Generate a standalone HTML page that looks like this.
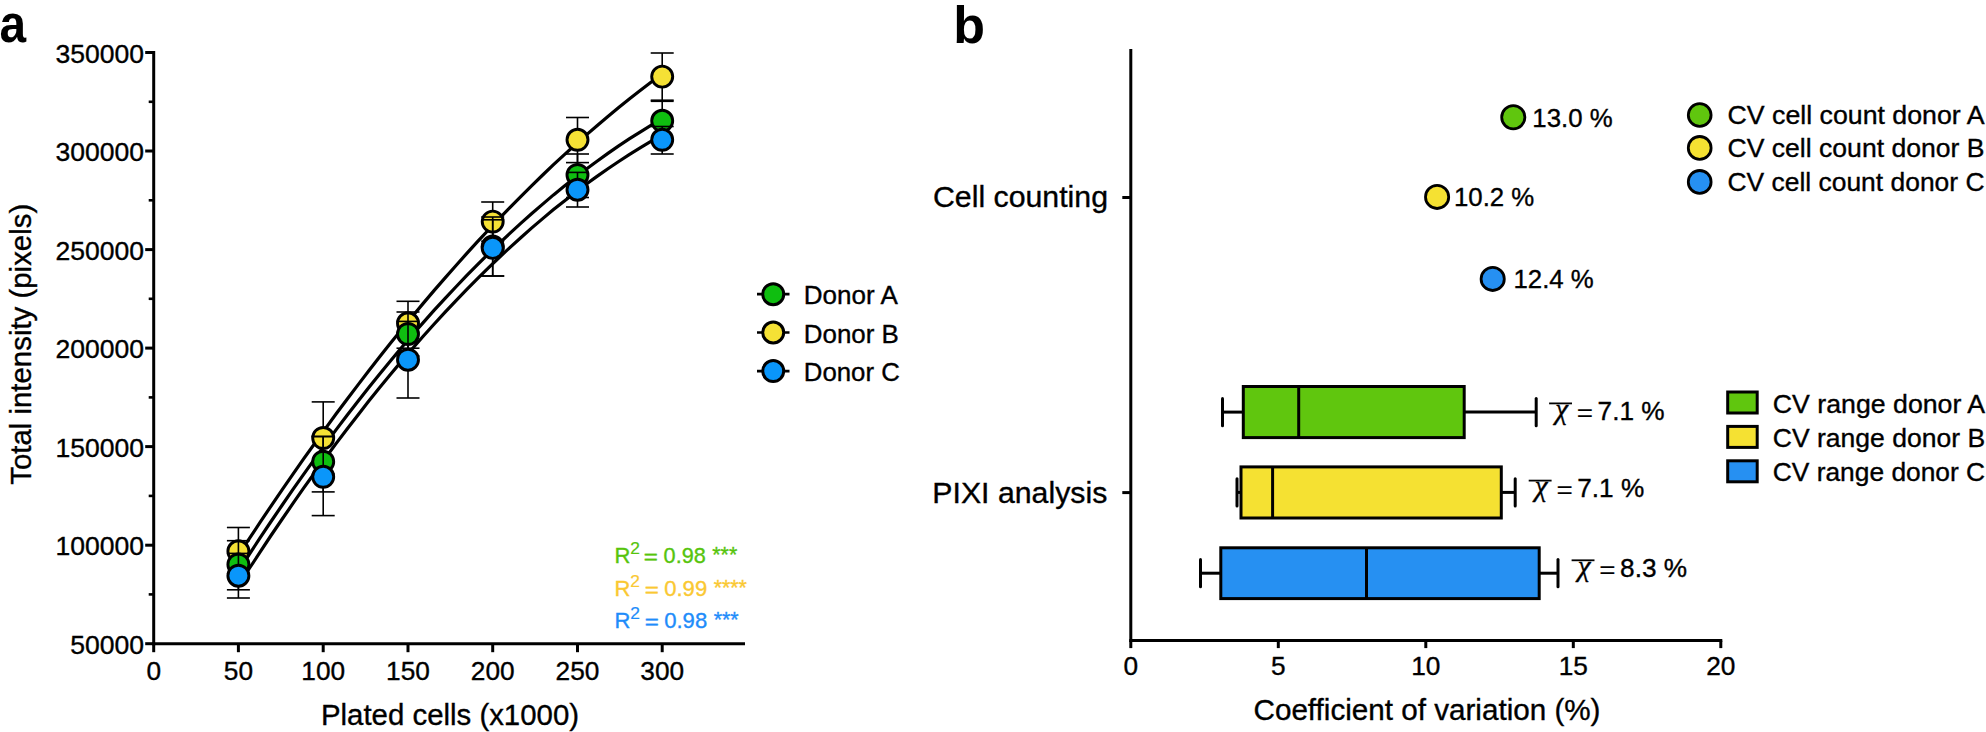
<!DOCTYPE html>
<html lang="en">
<head>
<meta charset="utf-8">
<title>Figure</title>
<style>html,body{margin:0;padding:0;background:#fff;}svg{display:block;}</style>
</head>
<body>
<svg width="1986" height="732" viewBox="0 0 1986 732" font-family='"Liberation Sans", sans-serif'>
<rect width="1986" height="732" fill="#fff"/>
<text x="-0.5" y="42.4" font-size="53" text-anchor="start" fill="#000" stroke="#000" stroke-width="0" font-weight="bold" textLength="26.6" lengthAdjust="spacingAndGlyphs">a</text>
<path d="M238.4,555.2 L249.3,538.6 L260.2,522.2 L271.0,506.1 L281.9,490.1 L292.8,474.4 L303.6,458.9 L314.5,443.7 L325.4,428.6 L336.2,413.8 L347.1,399.3 L358.0,384.9 L368.8,370.8 L379.7,356.8 L390.6,343.1 L401.4,329.7 L412.3,316.4 L423.2,303.4 L434.0,290.6 L444.9,278.1 L455.8,265.7 L466.6,253.6 L477.5,241.7 L488.4,230.0 L499.2,218.6 L510.1,207.4 L521.0,196.4 L531.8,185.6 L542.7,175.0 L553.5,164.7 L564.4,154.6 L575.3,144.7 L586.1,135.1 L597.0,125.7 L607.9,116.5 L618.7,107.5 L629.6,98.7 L640.5,90.2 L651.3,81.9 L662.2,73.8" fill="none" stroke="#000" stroke-width="3.2" stroke-linejoin="round"/>
<path d="M238.4,571.1 L249.3,554.3 L260.2,537.7 L271.0,521.5 L281.9,505.5 L292.8,489.7 L303.6,474.3 L314.5,459.1 L325.4,444.2 L336.2,429.6 L347.1,415.3 L358.0,401.2 L368.8,387.4 L379.7,373.9 L390.6,360.7 L401.4,347.7 L412.3,335.0 L423.2,322.6 L434.0,310.4 L444.9,298.6 L455.8,287.0 L466.6,275.6 L477.5,264.6 L488.4,253.8 L499.2,243.3 L510.1,233.1 L521.0,223.1 L531.8,213.5 L542.7,204.1 L553.5,194.9 L564.4,186.1 L575.3,177.5 L586.1,169.2 L597.0,161.2 L607.9,153.4 L618.7,145.9 L629.6,138.7 L640.5,131.8 L651.3,125.2 L662.2,118.8" fill="none" stroke="#000" stroke-width="3.2" stroke-linejoin="round"/>
<path d="M238.4,585.4 L249.3,568.5 L260.2,551.9 L271.0,535.5 L281.9,519.5 L292.8,503.7 L303.6,488.2 L314.5,473.0 L325.4,458.0 L336.2,443.4 L347.1,429.0 L358.0,414.9 L368.8,401.1 L379.7,387.6 L390.6,374.3 L401.4,361.4 L412.3,348.7 L423.2,336.3 L434.0,324.2 L444.9,312.4 L455.8,300.8 L466.6,289.6 L477.5,278.6 L488.4,267.9 L499.2,257.5 L510.1,247.3 L521.0,237.5 L531.8,227.9 L542.7,218.6 L553.5,209.6 L564.4,200.9 L575.3,192.4 L586.1,184.3 L597.0,176.4 L607.9,168.8 L618.7,161.5 L629.6,154.4 L640.5,147.7 L651.3,141.2 L662.2,135.0" fill="none" stroke="#000" stroke-width="3.2" stroke-linejoin="round"/>
<line x1="238.4" y1="527.5" x2="238.4" y2="573.5" stroke="#000" stroke-width="1.6" stroke-linecap="butt"/>
<line x1="226.9" y1="527.5" x2="249.9" y2="527.5" stroke="#000" stroke-width="1.6" stroke-linecap="butt"/>
<line x1="226.9" y1="573.5" x2="249.9" y2="573.5" stroke="#000" stroke-width="1.6" stroke-linecap="butt"/>
<line x1="323.2" y1="401.9" x2="323.2" y2="474.0" stroke="#000" stroke-width="1.6" stroke-linecap="butt"/>
<line x1="311.7" y1="401.9" x2="334.7" y2="401.9" stroke="#000" stroke-width="1.6" stroke-linecap="butt"/>
<line x1="311.7" y1="474.0" x2="334.7" y2="474.0" stroke="#000" stroke-width="1.6" stroke-linecap="butt"/>
<line x1="408.0" y1="301.3" x2="408.0" y2="348.2" stroke="#000" stroke-width="1.6" stroke-linecap="butt"/>
<line x1="396.5" y1="301.3" x2="419.5" y2="301.3" stroke="#000" stroke-width="1.6" stroke-linecap="butt"/>
<line x1="396.5" y1="348.2" x2="419.5" y2="348.2" stroke="#000" stroke-width="1.6" stroke-linecap="butt"/>
<line x1="492.7" y1="202.0" x2="492.7" y2="241.2" stroke="#000" stroke-width="1.6" stroke-linecap="butt"/>
<line x1="481.2" y1="202.0" x2="504.2" y2="202.0" stroke="#000" stroke-width="1.6" stroke-linecap="butt"/>
<line x1="481.2" y1="241.2" x2="504.2" y2="241.2" stroke="#000" stroke-width="1.6" stroke-linecap="butt"/>
<line x1="577.5" y1="117.5" x2="577.5" y2="162.6" stroke="#000" stroke-width="1.6" stroke-linecap="butt"/>
<line x1="566.0" y1="117.5" x2="589.0" y2="117.5" stroke="#000" stroke-width="1.6" stroke-linecap="butt"/>
<line x1="566.0" y1="162.6" x2="589.0" y2="162.6" stroke="#000" stroke-width="1.6" stroke-linecap="butt"/>
<line x1="662.2" y1="53.0" x2="662.2" y2="100.2" stroke="#000" stroke-width="1.6" stroke-linecap="butt"/>
<line x1="650.7" y1="53.0" x2="673.7" y2="53.0" stroke="#000" stroke-width="1.6" stroke-linecap="butt"/>
<line x1="650.7" y1="100.2" x2="673.7" y2="100.2" stroke="#000" stroke-width="1.6" stroke-linecap="butt"/>
<circle cx="238.4" cy="551.3" r="10.5" fill="#f5e135" stroke="#000" stroke-width="2.9"/>
<circle cx="323.2" cy="438.0" r="10.5" fill="#f5e135" stroke="#000" stroke-width="2.9"/>
<circle cx="408.0" cy="323.3" r="10.5" fill="#f5e135" stroke="#000" stroke-width="2.9"/>
<circle cx="492.7" cy="221.6" r="10.5" fill="#f5e135" stroke="#000" stroke-width="2.9"/>
<circle cx="577.5" cy="139.8" r="10.5" fill="#f5e135" stroke="#000" stroke-width="2.9"/>
<circle cx="662.2" cy="76.6" r="10.5" fill="#f5e135" stroke="#000" stroke-width="2.9"/>
<line x1="238.4" y1="540.7" x2="238.4" y2="589.8" stroke="#000" stroke-width="1.6" stroke-linecap="butt"/>
<line x1="226.9" y1="540.7" x2="249.9" y2="540.7" stroke="#000" stroke-width="1.6" stroke-linecap="butt"/>
<line x1="226.9" y1="589.8" x2="249.9" y2="589.8" stroke="#000" stroke-width="1.6" stroke-linecap="butt"/>
<line x1="323.2" y1="436.5" x2="323.2" y2="491.9" stroke="#000" stroke-width="1.6" stroke-linecap="butt"/>
<line x1="311.7" y1="436.5" x2="334.7" y2="436.5" stroke="#000" stroke-width="1.6" stroke-linecap="butt"/>
<line x1="311.7" y1="491.9" x2="334.7" y2="491.9" stroke="#000" stroke-width="1.6" stroke-linecap="butt"/>
<line x1="408.0" y1="312.0" x2="408.0" y2="356.0" stroke="#000" stroke-width="1.6" stroke-linecap="butt"/>
<line x1="396.5" y1="312.0" x2="419.5" y2="312.0" stroke="#000" stroke-width="1.6" stroke-linecap="butt"/>
<line x1="396.5" y1="356.0" x2="419.5" y2="356.0" stroke="#000" stroke-width="1.6" stroke-linecap="butt"/>
<line x1="492.7" y1="217.0" x2="492.7" y2="276.0" stroke="#000" stroke-width="1.6" stroke-linecap="butt"/>
<line x1="481.2" y1="217.0" x2="504.2" y2="217.0" stroke="#000" stroke-width="1.6" stroke-linecap="butt"/>
<line x1="481.2" y1="276.0" x2="504.2" y2="276.0" stroke="#000" stroke-width="1.6" stroke-linecap="butt"/>
<line x1="577.5" y1="154.0" x2="577.5" y2="197.5" stroke="#000" stroke-width="1.6" stroke-linecap="butt"/>
<line x1="566.0" y1="154.0" x2="589.0" y2="154.0" stroke="#000" stroke-width="1.6" stroke-linecap="butt"/>
<line x1="566.0" y1="197.5" x2="589.0" y2="197.5" stroke="#000" stroke-width="1.6" stroke-linecap="butt"/>
<line x1="662.2" y1="101.3" x2="662.2" y2="141.0" stroke="#000" stroke-width="1.6" stroke-linecap="butt"/>
<line x1="650.7" y1="101.3" x2="673.7" y2="101.3" stroke="#000" stroke-width="1.6" stroke-linecap="butt"/>
<line x1="650.7" y1="141.0" x2="673.7" y2="141.0" stroke="#000" stroke-width="1.6" stroke-linecap="butt"/>
<circle cx="238.4" cy="564.5" r="10.5" fill="#0fbe10" stroke="#000" stroke-width="2.9"/>
<circle cx="323.2" cy="461.7" r="10.5" fill="#0fbe10" stroke="#000" stroke-width="2.9"/>
<circle cx="408.0" cy="334.0" r="10.5" fill="#0fbe10" stroke="#000" stroke-width="2.9"/>
<circle cx="492.7" cy="246.5" r="10.5" fill="#0fbe10" stroke="#000" stroke-width="2.9"/>
<circle cx="577.5" cy="175.0" r="10.5" fill="#0fbe10" stroke="#000" stroke-width="2.9"/>
<circle cx="662.2" cy="120.8" r="10.5" fill="#0fbe10" stroke="#000" stroke-width="2.9"/>
<line x1="238.4" y1="553.4" x2="238.4" y2="598.0" stroke="#000" stroke-width="1.6" stroke-linecap="butt"/>
<line x1="226.9" y1="553.4" x2="249.9" y2="553.4" stroke="#000" stroke-width="1.6" stroke-linecap="butt"/>
<line x1="226.9" y1="598.0" x2="249.9" y2="598.0" stroke="#000" stroke-width="1.6" stroke-linecap="butt"/>
<line x1="323.2" y1="436.5" x2="323.2" y2="515.6" stroke="#000" stroke-width="1.6" stroke-linecap="butt"/>
<line x1="311.7" y1="436.5" x2="334.7" y2="436.5" stroke="#000" stroke-width="1.6" stroke-linecap="butt"/>
<line x1="311.7" y1="515.6" x2="334.7" y2="515.6" stroke="#000" stroke-width="1.6" stroke-linecap="butt"/>
<line x1="408.0" y1="321.4" x2="408.0" y2="398.0" stroke="#000" stroke-width="1.6" stroke-linecap="butt"/>
<line x1="396.5" y1="321.4" x2="419.5" y2="321.4" stroke="#000" stroke-width="1.6" stroke-linecap="butt"/>
<line x1="396.5" y1="398.0" x2="419.5" y2="398.0" stroke="#000" stroke-width="1.6" stroke-linecap="butt"/>
<line x1="492.7" y1="219.8" x2="492.7" y2="276.0" stroke="#000" stroke-width="1.6" stroke-linecap="butt"/>
<line x1="481.2" y1="219.8" x2="504.2" y2="219.8" stroke="#000" stroke-width="1.6" stroke-linecap="butt"/>
<line x1="481.2" y1="276.0" x2="504.2" y2="276.0" stroke="#000" stroke-width="1.6" stroke-linecap="butt"/>
<line x1="577.5" y1="172.4" x2="577.5" y2="207.0" stroke="#000" stroke-width="1.6" stroke-linecap="butt"/>
<line x1="566.0" y1="172.4" x2="589.0" y2="172.4" stroke="#000" stroke-width="1.6" stroke-linecap="butt"/>
<line x1="566.0" y1="207.0" x2="589.0" y2="207.0" stroke="#000" stroke-width="1.6" stroke-linecap="butt"/>
<line x1="662.2" y1="126.5" x2="662.2" y2="154.0" stroke="#000" stroke-width="1.6" stroke-linecap="butt"/>
<line x1="650.7" y1="126.5" x2="673.7" y2="126.5" stroke="#000" stroke-width="1.6" stroke-linecap="butt"/>
<line x1="650.7" y1="154.0" x2="673.7" y2="154.0" stroke="#000" stroke-width="1.6" stroke-linecap="butt"/>
<circle cx="238.4" cy="575.7" r="10.5" fill="#0a96fa" stroke="#000" stroke-width="2.9"/>
<circle cx="323.2" cy="476.8" r="10.5" fill="#0a96fa" stroke="#000" stroke-width="2.9"/>
<circle cx="408.0" cy="359.7" r="10.5" fill="#0a96fa" stroke="#000" stroke-width="2.9"/>
<circle cx="492.7" cy="247.9" r="10.5" fill="#0a96fa" stroke="#000" stroke-width="2.9"/>
<circle cx="577.5" cy="189.7" r="10.5" fill="#0a96fa" stroke="#000" stroke-width="2.9"/>
<circle cx="662.2" cy="139.8" r="10.5" fill="#0a96fa" stroke="#000" stroke-width="2.9"/>
<line x1="153.7" y1="51.0" x2="153.7" y2="645.2" stroke="#000" stroke-width="3" stroke-linecap="butt"/>
<line x1="152.2" y1="643.7" x2="745.0" y2="643.7" stroke="#000" stroke-width="3" stroke-linecap="butt"/>
<line x1="145.2" y1="643.7" x2="153.7" y2="643.7" stroke="#000" stroke-width="3" stroke-linecap="butt"/>
<text x="144.0" y="653.7" font-size="25.5" text-anchor="end" fill="#000" stroke="#000" stroke-width="0.35" font-weight="normal" textLength="73.8" lengthAdjust="spacingAndGlyphs">50000</text>
<line x1="148.7" y1="594.4" x2="153.7" y2="594.4" stroke="#000" stroke-width="2.6" stroke-linecap="butt"/>
<line x1="145.2" y1="545.2" x2="153.7" y2="545.2" stroke="#000" stroke-width="3" stroke-linecap="butt"/>
<text x="144.0" y="555.2" font-size="25.5" text-anchor="end" fill="#000" stroke="#000" stroke-width="0.35" font-weight="normal" textLength="88.5" lengthAdjust="spacingAndGlyphs">100000</text>
<line x1="148.7" y1="495.9" x2="153.7" y2="495.9" stroke="#000" stroke-width="2.6" stroke-linecap="butt"/>
<line x1="145.2" y1="446.6" x2="153.7" y2="446.6" stroke="#000" stroke-width="3" stroke-linecap="butt"/>
<text x="144.0" y="456.6" font-size="25.5" text-anchor="end" fill="#000" stroke="#000" stroke-width="0.35" font-weight="normal" textLength="88.5" lengthAdjust="spacingAndGlyphs">150000</text>
<line x1="148.7" y1="397.4" x2="153.7" y2="397.4" stroke="#000" stroke-width="2.6" stroke-linecap="butt"/>
<line x1="145.2" y1="348.1" x2="153.7" y2="348.1" stroke="#000" stroke-width="3" stroke-linecap="butt"/>
<text x="144.0" y="358.1" font-size="25.5" text-anchor="end" fill="#000" stroke="#000" stroke-width="0.35" font-weight="normal" textLength="88.5" lengthAdjust="spacingAndGlyphs">200000</text>
<line x1="148.7" y1="298.8" x2="153.7" y2="298.8" stroke="#000" stroke-width="2.6" stroke-linecap="butt"/>
<line x1="145.2" y1="249.6" x2="153.7" y2="249.6" stroke="#000" stroke-width="3" stroke-linecap="butt"/>
<text x="144.0" y="259.6" font-size="25.5" text-anchor="end" fill="#000" stroke="#000" stroke-width="0.35" font-weight="normal" textLength="88.5" lengthAdjust="spacingAndGlyphs">250000</text>
<line x1="148.7" y1="200.3" x2="153.7" y2="200.3" stroke="#000" stroke-width="2.6" stroke-linecap="butt"/>
<line x1="145.2" y1="151.0" x2="153.7" y2="151.0" stroke="#000" stroke-width="3" stroke-linecap="butt"/>
<text x="144.0" y="161.0" font-size="25.5" text-anchor="end" fill="#000" stroke="#000" stroke-width="0.35" font-weight="normal" textLength="88.5" lengthAdjust="spacingAndGlyphs">300000</text>
<line x1="148.7" y1="101.8" x2="153.7" y2="101.8" stroke="#000" stroke-width="2.6" stroke-linecap="butt"/>
<line x1="145.2" y1="52.5" x2="153.7" y2="52.5" stroke="#000" stroke-width="3" stroke-linecap="butt"/>
<text x="144.0" y="62.5" font-size="25.5" text-anchor="end" fill="#000" stroke="#000" stroke-width="0.35" font-weight="normal" textLength="88.5" lengthAdjust="spacingAndGlyphs">350000</text>
<line x1="153.7" y1="643.7" x2="153.7" y2="652.2" stroke="#000" stroke-width="3" stroke-linecap="butt"/>
<text x="153.7" y="680.0" font-size="25.5" text-anchor="middle" fill="#000" stroke="#000" stroke-width="0.35" font-weight="normal" textLength="14.6" lengthAdjust="spacingAndGlyphs">0</text>
<line x1="238.4" y1="643.7" x2="238.4" y2="652.2" stroke="#000" stroke-width="3" stroke-linecap="butt"/>
<text x="238.4" y="680.0" font-size="25.5" text-anchor="middle" fill="#000" stroke="#000" stroke-width="0.35" font-weight="normal" textLength="29.2" lengthAdjust="spacingAndGlyphs">50</text>
<line x1="323.2" y1="643.7" x2="323.2" y2="652.2" stroke="#000" stroke-width="3" stroke-linecap="butt"/>
<text x="323.2" y="680.0" font-size="25.5" text-anchor="middle" fill="#000" stroke="#000" stroke-width="0.35" font-weight="normal" textLength="43.8" lengthAdjust="spacingAndGlyphs">100</text>
<line x1="408.0" y1="643.7" x2="408.0" y2="652.2" stroke="#000" stroke-width="3" stroke-linecap="butt"/>
<text x="408.0" y="680.0" font-size="25.5" text-anchor="middle" fill="#000" stroke="#000" stroke-width="0.35" font-weight="normal" textLength="43.8" lengthAdjust="spacingAndGlyphs">150</text>
<line x1="492.7" y1="643.7" x2="492.7" y2="652.2" stroke="#000" stroke-width="3" stroke-linecap="butt"/>
<text x="492.7" y="680.0" font-size="25.5" text-anchor="middle" fill="#000" stroke="#000" stroke-width="0.35" font-weight="normal" textLength="43.8" lengthAdjust="spacingAndGlyphs">200</text>
<line x1="577.5" y1="643.7" x2="577.5" y2="652.2" stroke="#000" stroke-width="3" stroke-linecap="butt"/>
<text x="577.5" y="680.0" font-size="25.5" text-anchor="middle" fill="#000" stroke="#000" stroke-width="0.35" font-weight="normal" textLength="43.8" lengthAdjust="spacingAndGlyphs">250</text>
<line x1="662.2" y1="643.7" x2="662.2" y2="652.2" stroke="#000" stroke-width="3" stroke-linecap="butt"/>
<text x="662.2" y="680.0" font-size="25.5" text-anchor="middle" fill="#000" stroke="#000" stroke-width="0.35" font-weight="normal" textLength="43.8" lengthAdjust="spacingAndGlyphs">300</text>
<text x="450.0" y="724.5" font-size="29.5" text-anchor="middle" fill="#000" stroke="#000" stroke-width="0.35" font-weight="normal" textLength="258.0" lengthAdjust="spacingAndGlyphs">Plated cells (x1000)</text>
<text transform="translate(30.9 344.3) rotate(-90)" font-size="29.5" text-anchor="middle" stroke="#000" stroke-width="0.35" textLength="281" lengthAdjust="spacingAndGlyphs">Total intensity (pixels)</text>
<line x1="757.0" y1="294.2" x2="789.5" y2="294.2" stroke="#000" stroke-width="2.7" stroke-linecap="butt"/>
<circle cx="773.2" cy="294.2" r="10.5" fill="#0fbe10" stroke="#000" stroke-width="3.0"/>
<text x="803.8" y="304.0" font-size="25.5" text-anchor="start" fill="#000" stroke="#000" stroke-width="0.35" font-weight="normal" textLength="94.0" lengthAdjust="spacingAndGlyphs">Donor A</text>
<line x1="757.0" y1="332.5" x2="789.5" y2="332.5" stroke="#000" stroke-width="2.7" stroke-linecap="butt"/>
<circle cx="773.2" cy="332.5" r="10.5" fill="#f5e135" stroke="#000" stroke-width="3.0"/>
<text x="803.8" y="342.5" font-size="25.5" text-anchor="start" fill="#000" stroke="#000" stroke-width="0.35" font-weight="normal" textLength="95.0" lengthAdjust="spacingAndGlyphs">Donor B</text>
<line x1="757.0" y1="371.1" x2="789.5" y2="371.1" stroke="#000" stroke-width="2.7" stroke-linecap="butt"/>
<circle cx="773.2" cy="371.1" r="10.5" fill="#0a96fa" stroke="#000" stroke-width="3.0"/>
<text x="803.8" y="380.7" font-size="25.5" text-anchor="start" fill="#000" stroke="#000" stroke-width="0.35" font-weight="normal" textLength="96.0" lengthAdjust="spacingAndGlyphs">Donor C</text>
<text><tspan x="614.6" y="562.8" font-size="22" fill="#56c40c" stroke="#56c40c" stroke-width="0.35">R</tspan><tspan x="630.3" y="554.0" font-size="17.4" fill="#56c40c" stroke="#56c40c" stroke-width="0.2">2</tspan><tspan x="643.7" y="564.1" font-size="20.4" fill="#56c40c" stroke="#56c40c" stroke-width="0.45" textLength="14.1" lengthAdjust="spacingAndGlyphs">=</tspan><tspan x="663.6" y="562.8" font-size="22" fill="#56c40c" stroke="#56c40c" stroke-width="0.35" textLength="42.2" lengthAdjust="spacingAndGlyphs">0.98</tspan><tspan x="712.3" y="561.7" font-size="22" fill="#56c40c" stroke="#56c40c" stroke-width="0.35" textLength="24.9" lengthAdjust="spacingAndGlyphs">***</tspan></text>
<text><tspan x="614.6" y="595.6" font-size="22" fill="#fac832" stroke="#fac832" stroke-width="0.35">R</tspan><tspan x="630.3" y="586.8" font-size="17.4" fill="#fac832" stroke="#fac832" stroke-width="0.2">2</tspan><tspan x="644.7" y="596.9" font-size="20.4" fill="#fac832" stroke="#fac832" stroke-width="0.45" textLength="14.1" lengthAdjust="spacingAndGlyphs">=</tspan><tspan x="664.2" y="595.6" font-size="22" fill="#fac832" stroke="#fac832" stroke-width="0.35" textLength="43.0" lengthAdjust="spacingAndGlyphs">0.99</tspan><tspan x="713.7" y="594.5" font-size="22" fill="#fac832" stroke="#fac832" stroke-width="0.35" textLength="33.2" lengthAdjust="spacingAndGlyphs">****</tspan></text>
<text><tspan x="614.6" y="627.9" font-size="22" fill="#1e8cfa" stroke="#1e8cfa" stroke-width="0.35">R</tspan><tspan x="630.3" y="619.1" font-size="17.4" fill="#1e8cfa" stroke="#1e8cfa" stroke-width="0.2">2</tspan><tspan x="644.7" y="629.2" font-size="20.4" fill="#1e8cfa" stroke="#1e8cfa" stroke-width="0.45" textLength="14.1" lengthAdjust="spacingAndGlyphs">=</tspan><tspan x="664.2" y="627.9" font-size="22" fill="#1e8cfa" stroke="#1e8cfa" stroke-width="0.35" textLength="43.0" lengthAdjust="spacingAndGlyphs">0.98</tspan><tspan x="713.7" y="626.8" font-size="22" fill="#1e8cfa" stroke="#1e8cfa" stroke-width="0.35" textLength="24.9" lengthAdjust="spacingAndGlyphs">***</tspan></text>
<text x="953.2" y="42.5" font-size="52" text-anchor="start" fill="#000" stroke="#000" stroke-width="0" font-weight="bold">b</text>
<line x1="1130.8" y1="49.0" x2="1130.8" y2="642.1" stroke="#000" stroke-width="3" stroke-linecap="butt"/>
<line x1="1129.3" y1="640.6" x2="1722.3" y2="640.6" stroke="#000" stroke-width="3" stroke-linecap="butt"/>
<line x1="1130.8" y1="640.6" x2="1130.8" y2="648.1" stroke="#000" stroke-width="3" stroke-linecap="butt"/>
<text x="1130.8" y="675.0" font-size="25.5" text-anchor="middle" fill="#000" stroke="#000" stroke-width="0.35" font-weight="normal" textLength="14.6" lengthAdjust="spacingAndGlyphs">0</text>
<line x1="1278.3" y1="640.6" x2="1278.3" y2="648.1" stroke="#000" stroke-width="3" stroke-linecap="butt"/>
<text x="1278.3" y="675.0" font-size="25.5" text-anchor="middle" fill="#000" stroke="#000" stroke-width="0.35" font-weight="normal" textLength="14.6" lengthAdjust="spacingAndGlyphs">5</text>
<line x1="1425.8" y1="640.6" x2="1425.8" y2="648.1" stroke="#000" stroke-width="3" stroke-linecap="butt"/>
<text x="1425.8" y="675.0" font-size="25.5" text-anchor="middle" fill="#000" stroke="#000" stroke-width="0.35" font-weight="normal" textLength="29.2" lengthAdjust="spacingAndGlyphs">10</text>
<line x1="1573.3" y1="640.6" x2="1573.3" y2="648.1" stroke="#000" stroke-width="3" stroke-linecap="butt"/>
<text x="1573.3" y="675.0" font-size="25.5" text-anchor="middle" fill="#000" stroke="#000" stroke-width="0.35" font-weight="normal" textLength="29.2" lengthAdjust="spacingAndGlyphs">15</text>
<line x1="1720.8" y1="640.6" x2="1720.8" y2="648.1" stroke="#000" stroke-width="3" stroke-linecap="butt"/>
<text x="1720.8" y="675.0" font-size="25.5" text-anchor="middle" fill="#000" stroke="#000" stroke-width="0.35" font-weight="normal" textLength="29.2" lengthAdjust="spacingAndGlyphs">20</text>
<line x1="1122.3" y1="197.5" x2="1130.8" y2="197.5" stroke="#000" stroke-width="3" stroke-linecap="butt"/>
<line x1="1122.3" y1="492.6" x2="1130.8" y2="492.6" stroke="#000" stroke-width="3" stroke-linecap="butt"/>
<text x="1108.0" y="207.4" font-size="29.5" text-anchor="end" fill="#000" stroke="#000" stroke-width="0.35" font-weight="normal" textLength="175.0" lengthAdjust="spacingAndGlyphs">Cell counting</text>
<text x="1107.3" y="503.2" font-size="29.5" text-anchor="end" fill="#000" stroke="#000" stroke-width="0.35" font-weight="normal" textLength="175.0" lengthAdjust="spacingAndGlyphs">PIXI analysis</text>
<text x="1427.0" y="720.4" font-size="29.5" text-anchor="middle" fill="#000" stroke="#000" stroke-width="0.35" font-weight="normal" textLength="347.0" lengthAdjust="spacingAndGlyphs">Coefficient of variation (%)</text>
<circle cx="1513.3" cy="117.2" r="11.6" fill="#60c60e" stroke="#000" stroke-width="2.8"/>
<text x="1532.3" y="127.0" font-size="25.5" text-anchor="start" fill="#000" stroke="#000" stroke-width="0.35" font-weight="normal" textLength="80.3" lengthAdjust="spacingAndGlyphs">13.0 %</text>
<circle cx="1437.1" cy="196.9" r="11.6" fill="#f5e132" stroke="#000" stroke-width="2.8"/>
<text x="1454.0" y="206.1" font-size="25.5" text-anchor="start" fill="#000" stroke="#000" stroke-width="0.35" font-weight="normal" textLength="80.3" lengthAdjust="spacingAndGlyphs">10.2 %</text>
<circle cx="1492.7" cy="278.9" r="11.6" fill="#2690f2" stroke="#000" stroke-width="2.8"/>
<text x="1513.5" y="288.3" font-size="25.5" text-anchor="start" fill="#000" stroke="#000" stroke-width="0.35" font-weight="normal" textLength="80.3" lengthAdjust="spacingAndGlyphs">12.4 %</text>
<circle cx="1699.7" cy="115.0" r="11.4" fill="#60c60e" stroke="#000" stroke-width="2.8"/>
<text x="1727.5" y="123.8" font-size="25.5" text-anchor="start" fill="#000" stroke="#000" stroke-width="0.35" font-weight="normal" textLength="257.0" lengthAdjust="spacingAndGlyphs">CV cell count donor A</text>
<circle cx="1699.7" cy="147.9" r="11.4" fill="#f5e132" stroke="#000" stroke-width="2.8"/>
<text x="1727.5" y="157.0" font-size="25.5" text-anchor="start" fill="#000" stroke="#000" stroke-width="0.35" font-weight="normal" textLength="257.0" lengthAdjust="spacingAndGlyphs">CV cell count donor B</text>
<circle cx="1699.7" cy="181.9" r="11.4" fill="#2690f2" stroke="#000" stroke-width="2.8"/>
<text x="1727.5" y="190.9" font-size="25.5" text-anchor="start" fill="#000" stroke="#000" stroke-width="0.35" font-weight="normal" textLength="257.0" lengthAdjust="spacingAndGlyphs">CV cell count donor C</text>
<line x1="1222.5" y1="412.1" x2="1243.3" y2="412.1" stroke="#000" stroke-width="3" stroke-linecap="butt"/>
<line x1="1464.2" y1="412.1" x2="1536.2" y2="412.1" stroke="#000" stroke-width="3" stroke-linecap="butt"/>
<line x1="1222.5" y1="398.4" x2="1222.5" y2="425.7" stroke="#000" stroke-width="3" stroke-linecap="round"/>
<line x1="1536.2" y1="398.4" x2="1536.2" y2="425.7" stroke="#000" stroke-width="3" stroke-linecap="round"/>
<rect x="1243.3" y="386.5" width="220.9" height="51.1" fill="#60c60e" stroke="#000" stroke-width="3"/>
<line x1="1298.7" y1="386.5" x2="1298.7" y2="437.6" stroke="#000" stroke-width="3" stroke-linecap="butt"/>
<line x1="1237.0" y1="492.4" x2="1241.0" y2="492.4" stroke="#000" stroke-width="3" stroke-linecap="butt"/>
<line x1="1501.3" y1="492.4" x2="1515.2" y2="492.4" stroke="#000" stroke-width="3" stroke-linecap="butt"/>
<line x1="1237.0" y1="478.8" x2="1237.0" y2="506.1" stroke="#000" stroke-width="3" stroke-linecap="round"/>
<line x1="1515.2" y1="478.8" x2="1515.2" y2="506.1" stroke="#000" stroke-width="3" stroke-linecap="round"/>
<rect x="1241.0" y="466.9" width="260.3" height="51.1" fill="#f5e132" stroke="#000" stroke-width="3"/>
<line x1="1272.6" y1="466.9" x2="1272.6" y2="518.0" stroke="#000" stroke-width="3" stroke-linecap="butt"/>
<line x1="1200.5" y1="573.2" x2="1220.8" y2="573.2" stroke="#000" stroke-width="3" stroke-linecap="butt"/>
<line x1="1539.2" y1="573.2" x2="1558.0" y2="573.2" stroke="#000" stroke-width="3" stroke-linecap="butt"/>
<line x1="1200.5" y1="559.6" x2="1200.5" y2="586.8" stroke="#000" stroke-width="3" stroke-linecap="round"/>
<line x1="1558.0" y1="559.6" x2="1558.0" y2="586.8" stroke="#000" stroke-width="3" stroke-linecap="round"/>
<rect x="1220.8" y="547.8" width="318.4" height="50.8" fill="#2690f2" stroke="#000" stroke-width="3"/>
<line x1="1366.5" y1="547.8" x2="1366.5" y2="598.6" stroke="#000" stroke-width="3" stroke-linecap="butt"/>
<line x1="1549.1" y1="403.4" x2="1572.0" y2="403.4" stroke="#000" stroke-width="1.8" stroke-linecap="butt"/>
<text><tspan x="1555.2" y="418.9" font-size="29" fill="#000" stroke="#000" stroke-width="0.35" font-family='"Liberation Serif", serif' font-style="italic">&#967;</tspan><tspan x="1576.8" y="420.7" font-size="23" fill="#000" stroke="#000" stroke-width="0.15" textLength="16.3" lengthAdjust="spacingAndGlyphs">=</tspan><tspan x="1597.6" y="420.0" font-size="25.5" fill="#000" stroke="#000" stroke-width="0.35" textLength="67.0" lengthAdjust="spacingAndGlyphs">7.1 %</tspan></text>
<line x1="1528.7" y1="480.6" x2="1551.6" y2="480.6" stroke="#000" stroke-width="1.8" stroke-linecap="butt"/>
<text><tspan x="1534.8" y="496.1" font-size="29" fill="#000" stroke="#000" stroke-width="0.35" font-family='"Liberation Serif", serif' font-style="italic">&#967;</tspan><tspan x="1556.4" y="497.9" font-size="23" fill="#000" stroke="#000" stroke-width="0.15" textLength="16.3" lengthAdjust="spacingAndGlyphs">=</tspan><tspan x="1577.2" y="497.2" font-size="25.5" fill="#000" stroke="#000" stroke-width="0.35" textLength="67.0" lengthAdjust="spacingAndGlyphs">7.1 %</tspan></text>
<line x1="1571.6" y1="560.3" x2="1594.5" y2="560.3" stroke="#000" stroke-width="1.8" stroke-linecap="butt"/>
<text><tspan x="1577.7" y="575.8" font-size="29" fill="#000" stroke="#000" stroke-width="0.35" font-family='"Liberation Serif", serif' font-style="italic">&#967;</tspan><tspan x="1599.3" y="577.6" font-size="23" fill="#000" stroke="#000" stroke-width="0.15" textLength="16.3" lengthAdjust="spacingAndGlyphs">=</tspan><tspan x="1620.1" y="576.9" font-size="25.5" fill="#000" stroke="#000" stroke-width="0.35" textLength="67.0" lengthAdjust="spacingAndGlyphs">8.3 %</tspan></text>
<rect x="1727.7" y="392.0" width="29.5" height="21" fill="#60c60e" stroke="#000" stroke-width="3"/>
<text x="1772.8" y="412.5" font-size="25.5" text-anchor="start" fill="#000" stroke="#000" stroke-width="0.35" font-weight="normal" textLength="212.3" lengthAdjust="spacingAndGlyphs">CV range donor A</text>
<rect x="1727.7" y="426.4" width="29.5" height="21" fill="#f5e132" stroke="#000" stroke-width="3"/>
<text x="1772.8" y="446.5" font-size="25.5" text-anchor="start" fill="#000" stroke="#000" stroke-width="0.35" font-weight="normal" textLength="212.3" lengthAdjust="spacingAndGlyphs">CV range donor B</text>
<rect x="1727.7" y="460.8" width="29.5" height="21" fill="#2690f2" stroke="#000" stroke-width="3"/>
<text x="1772.8" y="481.0" font-size="25.5" text-anchor="start" fill="#000" stroke="#000" stroke-width="0.35" font-weight="normal" textLength="212.3" lengthAdjust="spacingAndGlyphs">CV range donor C</text>
</svg>
</body>
</html>
